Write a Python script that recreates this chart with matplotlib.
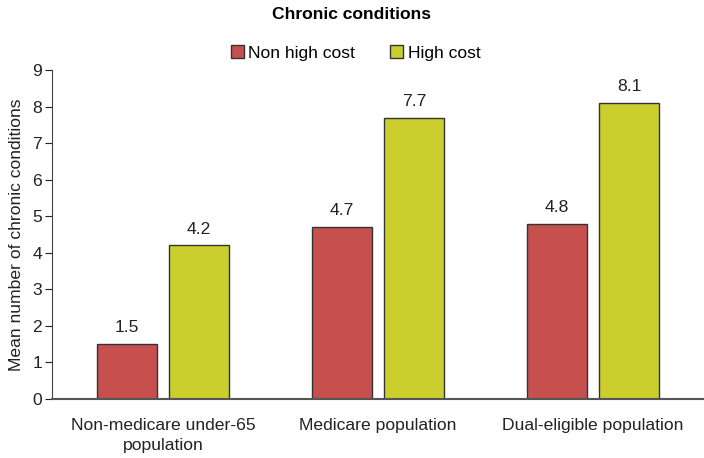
import numpy as np
import matplotlib.pyplot as plt

plt.rcParams['font.family'] = ['Liberation Sans', 'DejaVu Sans']

categories = ['Non-medicare under-65\npopulation', 'Medicare population', 'Dual-eligible population']
non_high_cost = [1.5, 4.7, 4.8]
high_cost = [4.2, 7.7, 8.1]

fs = 12.6

fig = plt.figure(figsize=(7.04, 4.58), dpi=100)
ax = fig.add_axes([0.074, 0.129, 0.926, 0.718])

x = np.arange(len(categories))
w = 0.28
off = 0.168
b1 = ax.bar(x - off, non_high_cost, w, color='#C5504E', edgecolor='#333333', linewidth=1, label='Non high cost')
b2 = ax.bar(x + off, high_cost, w, color='#CBCF2E', edgecolor='#333333', linewidth=1, label='High cost')

for bars, vals in [(b1, non_high_cost), (b2, high_cost)]:
    for r, v in zip(bars, vals):
        ax.text(r.get_x() + r.get_width() / 2, v + 0.24, f'{v}', ha='center', va='bottom',
                fontsize=fs, color='#222222')

ax.set_xlim(-0.516, 2.516)
ax.set_ylim(0, 9)
ax.set_yticks(range(10))
ax.set_xticks(x)
ax.set_xticklabels(categories, fontsize=fs, color='#222222', linespacing=1.4)
ax.tick_params(axis='y', labelsize=fs, colors='#222222', length=5, pad=2)
ax.tick_params(axis='x', length=0, pad=14)
ax.set_ylabel('Mean number of chronic conditions', fontsize=fs, color='#222222', labelpad=6)
for s in ['top', 'right']:
    ax.spines[s].set_visible(False)
ax.spines['left'].set_color('#444444')
ax.spines['bottom'].set_color('#555555')
ax.spines['bottom'].set_linewidth(1.5)

fig.text(0.5, 0.969, 'Chronic conditions', ha='center', va='center', fontsize=12.6, fontweight='bold')
fig.legend(loc='center', bbox_to_anchor=(0.505, 0.884), ncol=2, frameon=False, fontsize=fs,
           handlelength=0.75, handleheight=0.75, handletextpad=0.25, columnspacing=2.0)

fig.savefig('out.png', dpi=100)
